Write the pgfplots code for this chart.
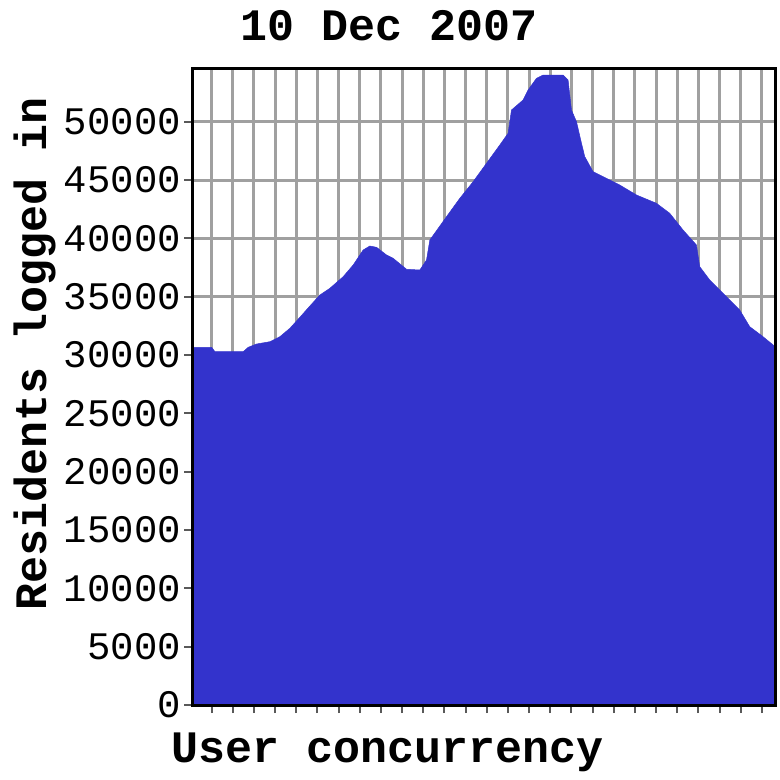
\documentclass[border=0pt]{standalone}
\usepackage{fontspec}
\setmainfont{Liberation Mono}
\usepackage{pgfplots}
\pgfplotsset{compat=1.18}
\definecolor{areablue}{HTML}{3333CC}
\definecolor{gridgray}{HTML}{A0A0A0}
\begin{document}
\begin{tikzpicture}
\begin{axis}[name=ax, scale only axis, width=583pt, height=637pt,
  xmin=192.5, xmax=775.5, ymin=0, ymax=54577,
  xtick={211.7,232.87,...,762.5}, xticklabels={},
  ytick={0,5000,...,50000},
  scaled y ticks=false,
  grid=major, grid style={gridgray, line width=3pt},
  tick align=outside, major tick length=8pt,
  tick style={gray!70!black, line width=2pt},
  tick pos=left,
  axis line style={line width=3pt, black},
  clip=false,
  /pgf/number format/assume math mode=true,
  /pgf/number format/1000 sep={},
  yticklabel style={font=\fontsize{39}{39}\selectfont},
  title={10 Dec 2007},
  title style={font=\fontsize{45}{45}\selectfont\bfseries, at={(axis description cs:0.337,1)}, anchor=base, yshift=21.3pt},
  xlabel={User concurrency},
  xlabel style={font=\fontsize{45}{45}\selectfont\bfseries, at={(axis description cs:0.3345,0)}, anchor=base, yshift=-57pt},
  ylabel={Residents logged in},
  ylabel style={font=\fontsize{45}{45}\selectfont\bfseries, at={(axis description cs:0,0.5518)}, anchor=base, yshift=145.5pt},
]
\addplot[fill=areablue, draw=areablue, line width=0.5pt] coordinates {
(192.5,30660)(211.7,30660)(215,30283)(243.3,30283)(248.3,30660)(256.7,30943)(270,31140)(280,31569)(290,32289)(300,33231)(310,34200)(320,35143)(330,35717)(343.3,36711)(353.3,37714)(363.3,39000)(370,39343)(376.7,39231)(386.7,38571)(393.3,38289)(406.7,37346)(420,37286)(426.7,38143)(430,39857)(446.7,41854)(460,43431)(473.3,44854)(486.7,46431)(500,48000)(508.3,49003)(511.7,51000)(523.3,51857)(528.3,52714)(536.7,53717)(543.3,54000)(563.3,54000)(568.3,53571)(571.7,51000)(576.7,50000)(581.7,48146)(585,47000)(593.3,45714)(603.3,45286)(620,44571)(636.7,43714)(656.7,43003)(670,42146)(683.3,40714)(696.7,39429)(700,37571)(710,36429)(726.7,35000)(740,33857)(750,32429)(763.3,31571)(775.5,30714)
} \closedcycle;
\draw[black, line width=3pt] (rel axis cs:0,0) rectangle (rel axis cs:1,1);
\end{axis}
\pgfresetboundingbox
\path[use as bounding box] ([xshift=-192.5pt,yshift=-75pt]ax.south west) rectangle ([xshift=4.5pt,yshift=68.3pt]ax.north east);
\end{tikzpicture}
\end{document}
